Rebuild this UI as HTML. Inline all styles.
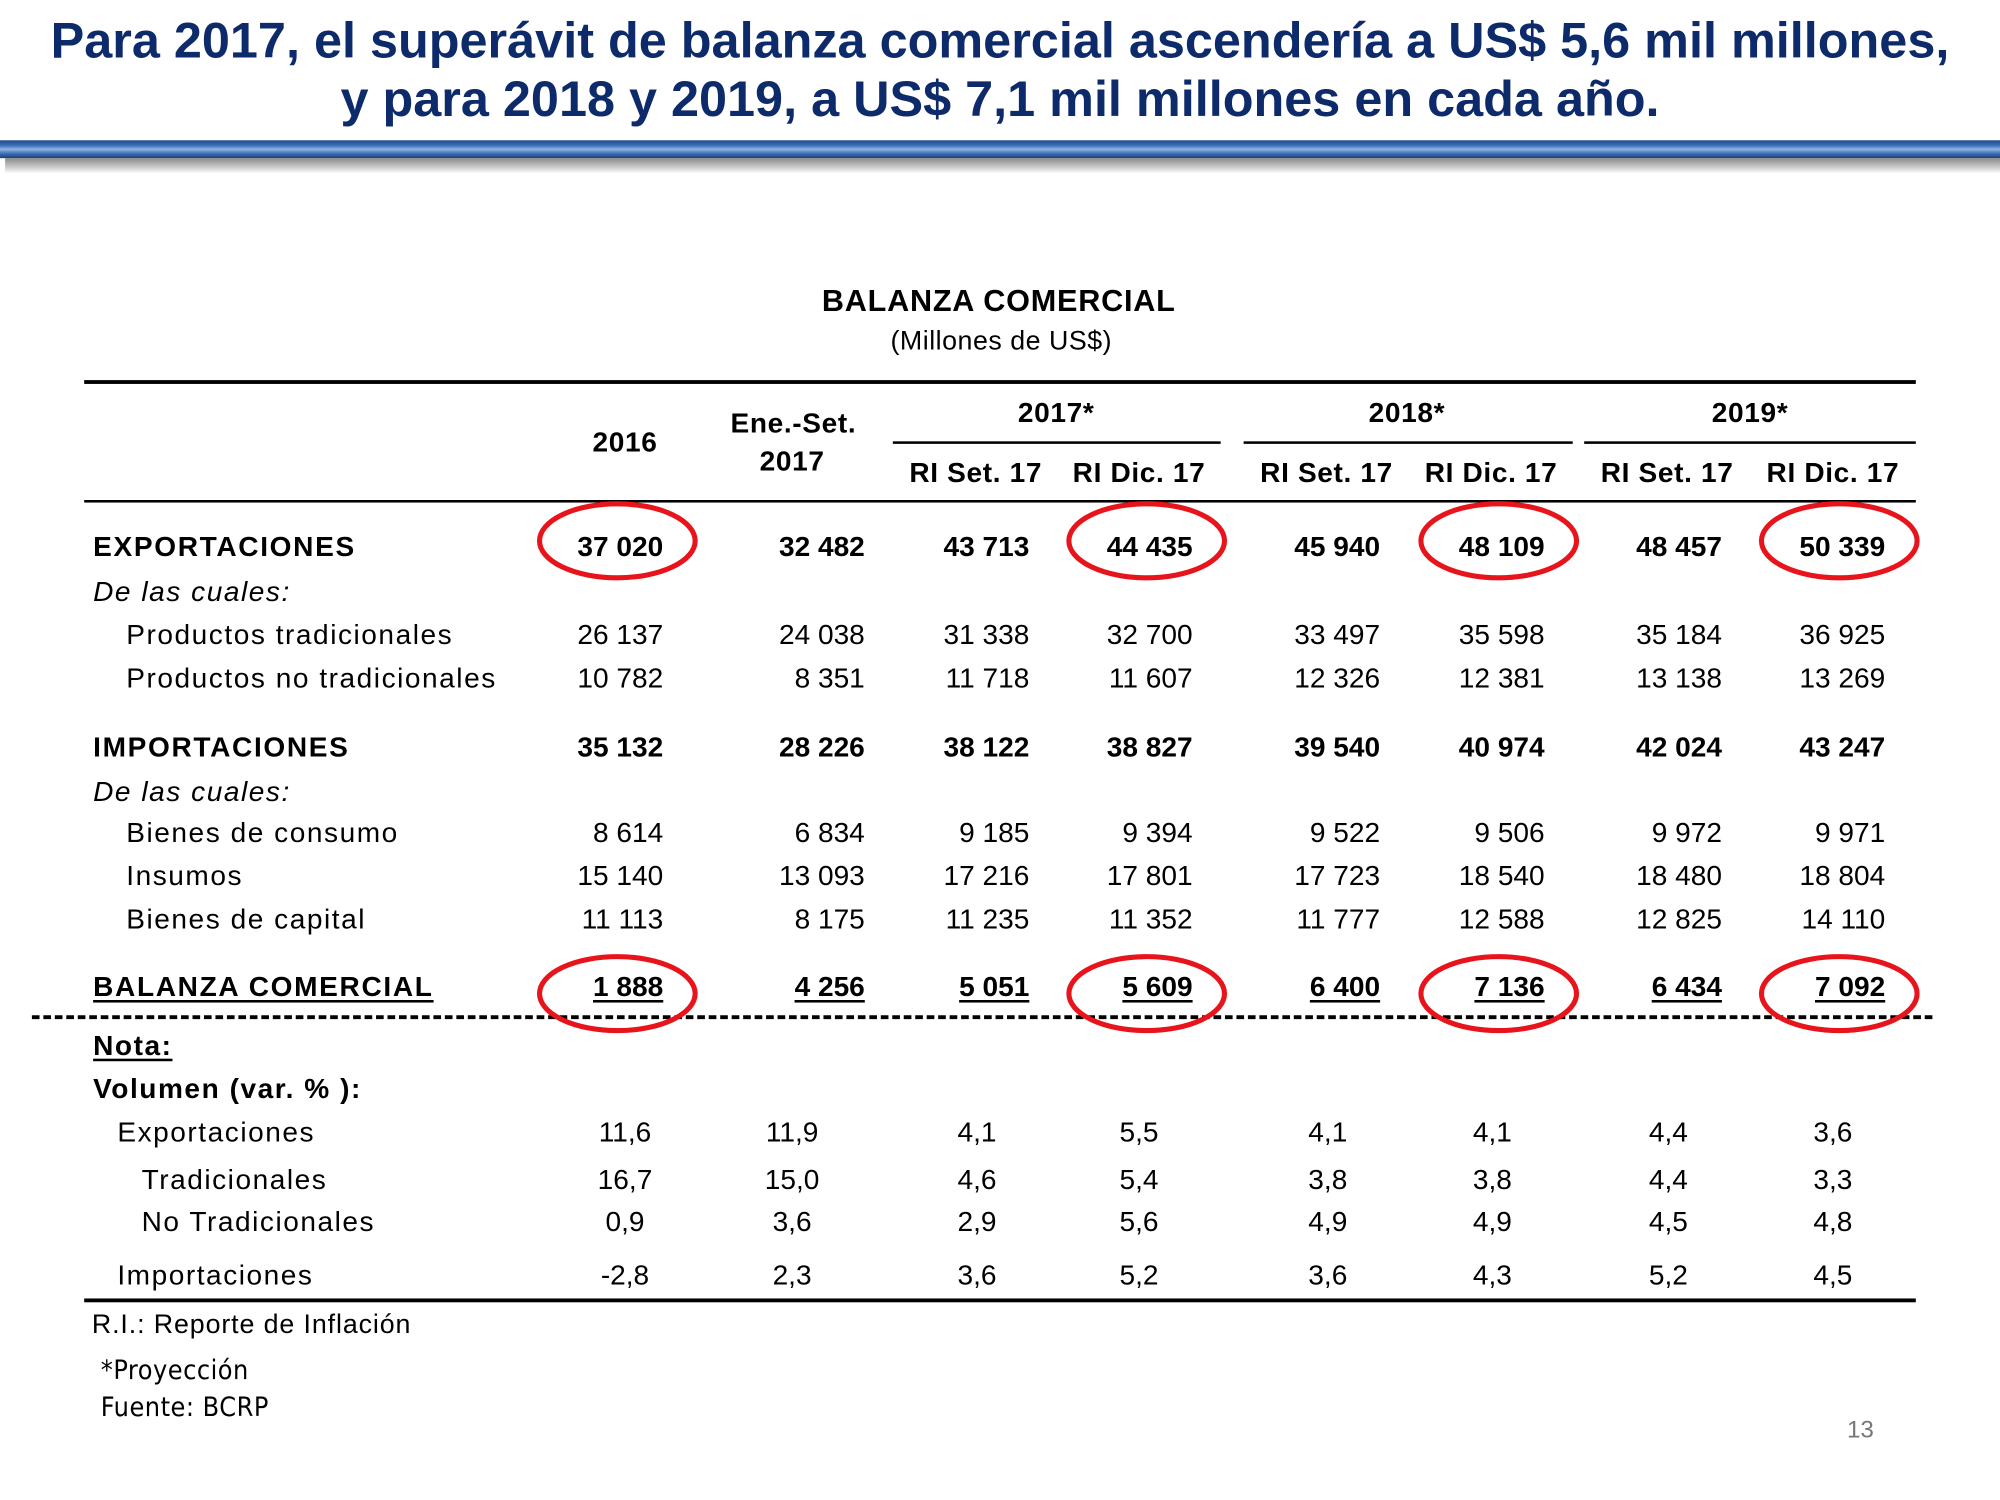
<!DOCTYPE html>
<html><head><meta charset="utf-8">
<style>
html,body{margin:0;padding:0;background:#fff;}
body{width:2000px;height:1500px;overflow:hidden;position:relative;}
#stage{position:absolute;left:0;top:0;width:1568px;height:1176px;transform:scale(1.27551);transform-origin:0 0;font-family:"Liberation Sans",sans-serif;color:#000;}
.t{position:absolute;white-space:nowrap;line-height:1;}
.title{left:0;width:1568px;text-align:center;font-weight:bold;font-size:39.5px;color:#0d2a6b;letter-spacing:0;}
.rule{position:absolute;background:#000;}
.r{text-align:right;transform:translateX(-100%);}
.c{transform:translateX(-50%);}
.b{font-weight:bold;}
.cell{font-size:22px;letter-spacing:0;}
.lab{letter-spacing:1.2px;}
.hdr{letter-spacing:0.5px;}
</style></head><body>
<div id="stage">
  <div class="t title" style="top:13px">Para 2017, el superávit de balanza comercial ascendería a US$ 5,6 mil millones,</div>
  <div class="t title" style="top:59px">y para 2018 y 2019, a US$ 7,1 mil millones en cada año.</div>
  <div style="position:absolute;left:0;top:110px;width:1568px;height:14px;background:linear-gradient(#1d4a8c 0%,#3f72b8 30%,#8fb4e6 50%,#3d6db0 75%,#1b3f78 100%);"></div>
  <div style="position:absolute;left:4px;top:124px;width:1564px;height:12px;background:linear-gradient(#8a8a8a,#d8d8d8 70%,#fff);"></div>

  <div class="t c b" style="left:783px;top:225px;font-size:24px;letter-spacing:0.6px">BALANZA COMERCIAL</div>
  <div class="t c" style="left:785px;top:257px;font-size:21px;letter-spacing:0.4px">(Millones de US$)</div>

  <div class="rule" style="left:66px;top:298px;width:1436px;height:3px"></div>
  <div class="t c b cell hdr" style="left:490px;top:336px">2016</div>
  <div class="t c b cell hdr" style="left:622px;top:321px">Ene.-Set.</div>
  <div class="t c b cell hdr" style="left:621px;top:351px">2017</div>
  <div class="t c b cell hdr" style="left:828px;top:313px">2017*</div>
  <div class="t c b cell hdr" style="left:1103px;top:313px">2018*</div>
  <div class="t c b cell hdr" style="left:1372px;top:313px">2019*</div>
  <div class="rule" style="left:700px;top:346px;width:257px;height:2px"></div>
  <div class="rule" style="left:975px;top:346px;width:258px;height:2px"></div>
  <div class="rule" style="left:1242px;top:346px;width:260px;height:2px"></div>
  <div id="subhdr"></div>
  <div class="rule" style="left:66px;top:392px;width:1436px;height:2px"></div>

  <div id="body"></div>

  <div style="position:absolute;left:25px;top:796px;width:1490px;height:0;border-top:3px dashed #000"></div>
  <div class="rule" style="left:66px;top:1018px;width:1436px;height:3px"></div>

  <div class="t" style="left:72px;top:1028px;font-size:21px;letter-spacing:0.7px">R.I.: Reporte de Inflación</div>
  <div class="t" style="left:79px;top:1064px;font-size:21px;font-family:'DejaVu Sans Condensed','DejaVu Sans',sans-serif;letter-spacing:0.4px">*Proyección</div>
  <div class="t" style="left:79px;top:1093px;font-size:21px;font-family:'DejaVu Sans Condensed','DejaVu Sans',sans-serif;letter-spacing:0.4px">Fuente: BCRP</div>
  <div class="t" style="left:1448px;top:1112px;font-size:19px;color:#777">13</div>

  <svg id="circles" width="1568" height="1176" style="position:absolute;left:0;top:0"></svg>
</div>
<script>
const subHeaders=["RI Set. 17","RI Dic. 17","RI Set. 17","RI Dic. 17","RI Set. 17","RI Dic. 17"];
const rowLabels=["EXPORTACIONES","De las cuales:","Productos tradicionales","Productos no tradicionales","IMPORTACIONES","De las cuales:","Bienes de consumo","Insumos","Bienes de capital","BALANZA COMERCIAL"];
const rowValues=[
 ["37 020","32 482","43 713","44 435","45 940","48 109","48 457","50 339"],
 null,
 ["26 137","24 038","31 338","32 700","33 497","35 598","35 184","36 925"],
 ["10 782","8 351","11 718","11 607","12 326","12 381","13 138","13 269"],
 ["35 132","28 226","38 122","38 827","39 540","40 974","42 024","43 247"],
 null,
 ["8 614","6 834","9 185","9 394","9 522","9 506","9 972","9 971"],
 ["15 140","13 093","17 216","17 801","17 723","18 540","18 480","18 804"],
 ["11 113","8 175","11 235","11 352","11 777","12 588","12 825","14 110"],
 ["1 888","4 256","5 051","5 609","6 400","7 136","6 434","7 092"]
];
const volLabels=["Nota:","Volumen (var. % ):","Exportaciones","Tradicionales","No Tradicionales","Importaciones"];
const volValues=[null,null,
 ["11,6","11,9","4,1","5,5","4,1","4,1","4,4","3,6"],
 ["16,7","15,0","4,6","5,4","3,8","3,8","4,4","3,3"],
 ["0,9","3,6","2,9","5,6","4,9","4,9","4,5","4,8"],
 ["-2,8","2,3","3,6","5,2","3,6","4,3","5,2","4,5"]
];
const highlightRows=[0,9];
const highlightCols=[0,3,5,7];

const subX=[765,893,1040,1169,1307,1437];
const colRight=[520,678,807,935,1082,1211,1350,1478];
const colCenter=[490,621,766,893,1041,1170,1308,1437];
const rowY=[428,463,497,531,585,620,652,686,720,773];
const rowIndent=[73,73,99,99,73,73,99,99,99,73];
const rowStyle=["b","i","","","b","i","","","","bu"];
const volY=[819,853,887,924,957,999];
const volIndent=[73,73,92,111,111,92];
const volStyle=["bu","b","","","",""];

function mk(parent,cls,x,y,txt){
  const d=document.createElement('div');
  d.className='t cell '+cls;
  d.style.left=x+'px';d.style.top=(y-10)+'px';
  d.textContent=txt;parent.appendChild(d);return d;
}
function styl(d,s){
  if(s.includes('b'))d.style.fontWeight='bold';
  if(s.includes('i'))d.style.fontStyle='italic';
  if(s.includes('u')){d.style.textDecoration='underline';d.style.textDecorationThickness='2px';d.style.textUnderlineOffset='3px';}
}
const sh=document.getElementById('subhdr');
subHeaders.forEach((h,i)=>{
  const d=mk(sh,'c b hdr',subX[i],370,h);
  
  
});
const body=document.getElementById('body');
rowLabels.forEach((l,r)=>{
  const d=mk(body,'lab',rowIndent[r],rowY[r],l);styl(d,rowStyle[r]);
  if(rowStyle[r].includes('b'))d.style.letterSpacing='1.3px';
  
  
  if(rowValues[r]) rowValues[r].forEach((v,c)=>{
    const e=mk(body,'r',colRight[c],rowY[r],v);
    styl(e,rowStyle[r]);
    
    
  });
});
volLabels.forEach((l,r)=>{
  const d=mk(body,'lab',volIndent[r],volY[r],l);styl(d,volStyle[r]);
  
  
  if(volValues[r]) volValues[r].forEach((v,c)=>{
    const e=mk(body,'c',colCenter[c],volY[r],v);
    e.style.fontSize='22px';
    
    
  });
});
const svg=document.getElementById('circles');
const NS='http://www.w3.org/2000/svg';
highlightRows.forEach(r=>{
  highlightCols.forEach(c=>{
    const el=document.createElementNS(NS,'ellipse');
    const cx=colRight[c]-36, cy=rowY[r]+(r===9?6:-4);
    el.setAttribute('cx',cx);el.setAttribute('cy',cy);
    el.setAttribute('rx',61);el.setAttribute('ry',29);
    el.setAttribute('fill','none');el.setAttribute('stroke','#e8141b');el.setAttribute('stroke-width','4');
    
    
    svg.appendChild(el);
  });
});
</script>
</body></html>
